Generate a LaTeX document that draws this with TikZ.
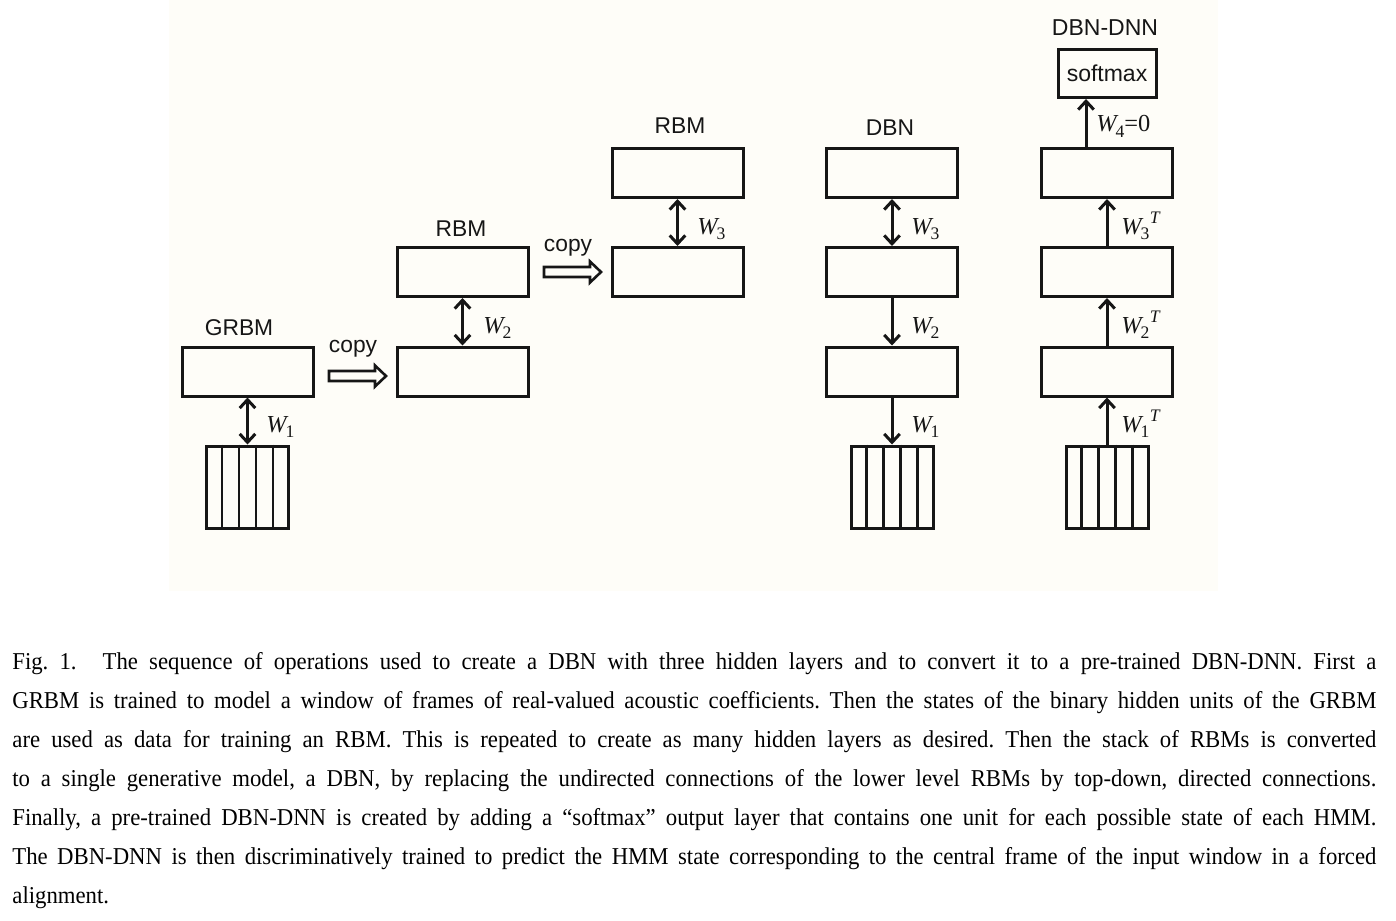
\documentclass[tikz,border=0pt]{standalone}
\usepackage{fontspec}
\setmainfont{Liberation Serif}
\newfontfamily\arialf{Liberation Sans}
\newfontfamily\timesf{Liberation Serif}
\newfontfamily\capf[FakeStretch=0.94]{Liberation Serif}
\usetikzlibrary{arrows.meta,calc}
\definecolor{cream}{RGB}{254,253,248}
\definecolor{ink}{RGB}{22,22,22}
\frenchspacing
\newcommand\lblfont{\arialf\fontsize{11.4}{13}\selectfont}
\newcommand\wfont{\timesf\fontsize{12.2}{14}\selectfont}
\newcommand\wsfont{\timesf\fontsize{8.8}{10}\selectfont}
\newcommand\Wsub[1]{{\wfont\itshape W}\kern-0.6pt\raisebox{-2.6pt}{\wsfont #1}}
\newcommand\WsubT[1]{\Wsub{#1}\kern0.3pt\raisebox{5.2pt}{\wsfont\itshape T}}
\newcommand\capfont{\capf\fontsize{12.1}{19.5}\selectfont}
\newcommand\capline[1]{\hbox to 682pt{\capfont #1}}
\begin{document}
\begin{tikzpicture}[x=0.5pt,y=-0.5pt,
  layer/.style={draw=ink, line width=1.5pt, minimum width=65.5pt, minimum height=24.5pt, inner sep=0pt},
  frames/.style={draw=ink, line width=1.5pt, minimum width=41pt, minimum height=41pt, inner sep=0pt},
  conn/.style={line width=1.5pt, draw=ink},
  bidir/.style={conn, {Straight Barb[length=4.2pt,width=7.8pt]}-{Straight Barb[length=4.2pt,width=7.8pt]}},
  onedir/.style={conn, -{Straight Barb[length=4.2pt,width=7.8pt]}},
  hollow/.style={draw=ink, line width=1.3pt, line join=miter},
  hdr/.style={font=\lblfont, inner sep=0pt, text=ink},
  wl/.style={inner sep=0pt, anchor=base west, text=ink},
  capl/.style={inner sep=0pt, anchor=base west, text=black}
]
\useasboundingbox (0,0) rectangle (1396,920);
\fill[white] (0,0) rectangle (1396,920);
\fill[cream] (169,0) rectangle (1218,591);

% ---------- GRBM ----------
\node[layer] (g1) at (247.5,371.5) {};
\node[frames] (g0) at (247.5,487) {};
\node[hdr] (lg) at (239,328) {GRBM};
\draw[bidir] (g1.south) -- (g0.north);
\node[wl] (wg1) at (266,432) {\Wsub{1}};

% copy arrow 1
\node[hdr] (cp1) at (353,349) {copy};
\coordinate (ca1) at (329,376);
\draw[hollow] (ca1) ++(0,-5) -- ++(46,0) -- ++(0,-5.5) -- ++(11,10.5) -- ++(-11,10.5) -- ++(0,-5.5) -- ++(-46,0) -- cycle;

% ---------- RBM 2 ----------
\node[layer] (r2a) at (462.5,371.5) {};
\node[layer] (r2b) at (462.5,272) {};
\node[hdr] (lr2) at (461,229) {RBM};
\draw[bidir] (r2b.south) -- (r2a.north);
\node[wl] (wr2) at (483,333) {\Wsub{2}};

% copy arrow 2
\node[hdr] (cp2) at (568,248) {copy};
\coordinate (ca2) at (544,272);
\draw[hollow] (ca2) ++(0,-5) -- ++(46,0) -- ++(0,-5.5) -- ++(11,10.5) -- ++(-11,10.5) -- ++(0,-5.5) -- ++(-46,0) -- cycle;

% ---------- RBM 3 ----------
\node[layer] (r3a) at (677.5,272) {};
\node[layer] (r3b) at (677.5,173) {};
\node[hdr] (lr3) at (680,126) {RBM};
\draw[bidir] (r3b.south) -- (r3a.north);
\node[wl] (wr3) at (697,234) {\Wsub{3}};

% ---------- DBN ----------
\node[layer] (b3) at (892,173) {};
\node[layer] (b2) at (892,272) {};
\node[layer] (b1) at (892,371.5) {};
\node[frames] (b0) at (892,487) {};
\node[hdr] (lb) at (890,128) {DBN};
\draw[bidir] (b3.south) -- (b2.north);
\draw[onedir] (b2.south) -- (b1.north);
\draw[onedir] (b1.south) -- (b0.north);
\node[wl] (wb3) at (911,234) {\Wsub{3}};
\node[wl] (wb2) at (911,333) {\Wsub{2}};
\node[wl] (wb1) at (911,432) {\Wsub{1}};

% ---------- DBN-DNN ----------
\node[layer] (d3) at (1107,173) {};
\node[layer] (d2) at (1107,272) {};
\node[layer] (d1) at (1107,371.5) {};
\node[frames] (d0) at (1107,487) {};
\node[draw=ink, line width=1.5pt, minimum width=49pt, minimum height=24pt, inner sep=0pt, font=\arialf\fontsize{11.5}{13}\selectfont, text=ink] (sm) at (1107,73.5) {softmax};
\node[hdr, font=\arialf\fontsize{11.5}{13}\selectfont] (ld) at (1105,28) {DBN-DNN};
\draw[onedir] (d0.north) -- (d1.south);
\draw[onedir] (d1.north) -- (d2.south);
\draw[onedir] (d2.north) -- (d3.south);
\draw[onedir] ([xshift=-10.5pt]d3.north) -- ([xshift=-10.5pt]d3.north |- sm.south);
\node[wl] (wd4) at (1096,132) {\Wsub{4}{\wfont=0}};
\node[wl] (wd3) at (1121,234) {\WsubT{3}};
\node[wl] (wd2) at (1121,333) {\WsubT{2}};
\node[wl] (wd1) at (1121,432) {\WsubT{1}};

% frame dividers
\foreach \f in {g0,b0,d0}{
  \foreach \k in {1,...,4}{
    \draw[line width=1.4pt, draw=ink] ($(\f.north west)!\k/5!(\f.north east)$) -- ($(\f.south west)!\k/5!(\f.south east)$);
  }
}

% ---------- caption ----------
\node[capl] (cap1) at (12,669) {\capline{Fig. 1.\hskip 13pt The sequence of operations used to create a DBN with three hidden layers and to convert it to a pre-trained DBN-DNN. First a}};
\node[capl] (cap2) at (12,708) {\capline{GRBM is trained to model a window of frames of real-valued acoustic coefficients. Then the states of the binary hidden units of the GRBM}};
\node[capl] (cap3) at (12,747) {\capline{are used as data for training an RBM. This is repeated to create as many hidden layers as desired. Then the stack of RBMs is converted}};
\node[capl] (cap4) at (12,786) {\capline{to a single generative model, a DBN, by replacing the undirected connections of the lower level RBMs by top-down, directed connections.}};
\node[capl] (cap5) at (12,825) {\capline{Finally, a pre-trained DBN-DNN is created by adding a “softmax” output layer that contains one unit for each possible state of each HMM.}};
\node[capl] (cap6) at (12,864) {\capline{The DBN-DNN is then discriminatively trained to predict the HMM state corresponding to the central frame of the input window in a forced}};
\node[capl] (cap7) at (12,903) {\capfont alignment.};
\end{tikzpicture}
\end{document}
